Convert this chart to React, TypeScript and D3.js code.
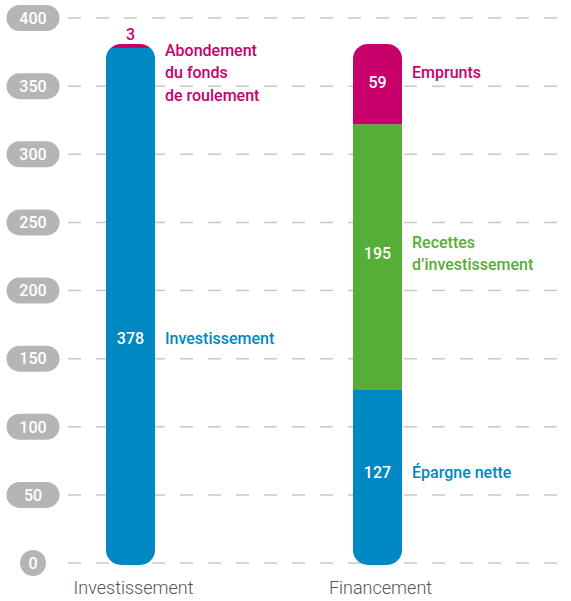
import * as d3 from "d3";

const categories = ["Investissement", "Financement"];
const ticks = [0, 50, 100, 150, 200, 250, 300, 350, 400];

// stacked segments, bottom to top
const investSeries = [
  { name: "Investissement", value: 378, color: "#0088c3" },
  { name: "Abondement du fonds de roulement", value: 3, color: "#c8006c" },
];
const financeSeries = [
  { name: "Épargne nette", value: 127, color: "#0088c3" },
  { name: "Recettes d'investissement", value: 195, color: "#55ae35" },
  { name: "Emprunts", value: 59, color: "#c8006c" },
];

const W = 571;
const H = 601;
const BAR_W = 49;
const FONT = "Roboto, 'Noto Sans', sans-serif";

function labelLines(name: string): string[] {
  if (name === "Abondement du fonds de roulement") return ["Abondement", "du fonds", "de roulement"];
  if (name === "Recettes d'investissement") return ["Recettes", "d\u2019investissement"];
  return [name];
}

export default function App() {
  const y = d3.scaleLinear().domain([0, 400]).range([563, 18]);
  const x = d3.scalePoint<string>().domain(categories).range([130.5, 377.5]);

  const stacks = [investSeries, financeSeries].map((series, i) => {
    let acc = 0;
    const segs = series.map((s) => {
      const seg = { ...s, y0: acc, y1: acc + s.value };
      acc += s.value;
      return seg;
    });
    return { cat: categories[i], segs, total: acc };
  });

  return (
    <svg width={W} height={H} style={{ position: "absolute", left: 0, top: 0 }}>
      <defs>
        {stacks.map((st, i) => (
          <clipPath id={`clip${i}`} key={i}>
            <rect
              x={x(st.cat)! - BAR_W / 2}
              y={y(st.total)}
              width={BAR_W}
              height={y(0) + 2 - y(st.total)}
              rx={15}
            />
          </clipPath>
        ))}
      </defs>

      {/* grid */}
      {ticks.map((t) => (
        <line
          key={t}
          x1={68}
          x2={W}
          y1={y(t)}
          y2={y(t)}
          stroke="#c8c8c8"
          strokeWidth={1.5}
          strokeDasharray="13 15"
        />
      ))}

      {/* y axis pills */}
      {ticks.map((t) => {
        const w = String(t).length === 1 ? 26 : 53;
        return (
          <g key={t} transform={`translate(33,${y(t)})`}>
            <rect x={-w / 2} y={-13} width={w} height={26} rx={13} fill="#b5b5b5" />
            <text
              textAnchor="middle"
              dy="0.36em"
              fill="#fff"
              fontFamily={FONT}
              fontWeight={500}
              fontSize={16}
            >
              {t}
            </text>
          </g>
        );
      })}

      {/* bars */}
      {stacks.map((st, i) => (
        <g key={st.cat} clipPath={`url(#clip${i})`}>
          {st.segs.map((s) => (
            <rect
              key={s.name}
              x={x(st.cat)! - BAR_W / 2}
              y={y(s.y1)}
              width={BAR_W}
              height={y(s.y0) - y(s.y1) + (s.y0 === 0 ? 2 : 0)}
              fill={s.color}
            />
          ))}
        </g>
      ))}

      {/* labels */}
      {stacks.map((st) =>
        st.segs.map((s) => {
          const cx = x(st.cat)!;
          const small = s.value < 10;
          const mid = (s.y0 + s.y1) / 2;
          // the Investissement label sits lower than the segment midpoint
          const labVal = s.name === "Investissement" ? 165 : s.name === "Emprunts" ? mid + 1.5 : mid + 3;
          const vy = small ? y(s.y1) - 10 : y(labVal);
          const lines = labelLines(s.name);
          const lh = 22.5;
          const nameY = small
            ? y(s.y1) + 6
            : s.name === "Emprunts"
            ? y(labVal) - 10
            : y(labVal) - ((lines.length - 1) * lh) / 2;
          return (
            <g key={s.name}>
              <text
                x={cx}
                y={vy}
                dy="0.36em"
                textAnchor="middle"
                fill={small ? s.color : "#fff"}
                fontFamily={FONT}
                fontWeight={500}
                fontSize={16}
              >
                {s.value}
              </text>
              {lines.map((l, k) => (
                <text
                  key={k}
                  x={cx + BAR_W / 2 + 10}
                  y={nameY + k * lh}
                  dy="0.36em"
                  fill={s.color}
                  fontFamily={FONT}
                  fontWeight={500}
                  fontSize={16}
                >
                  {l}
                </text>
              ))}
            </g>
          );
        })
      )}

      {/* x axis labels */}
      {categories.map((c) => (
        <text
          key={c}
          x={x(c)! + 3}
          y={588}
          dy="0.36em"
          textAnchor="middle"
          fill="#555"
          fontFamily={FONT}
          fontWeight={300}
          fontSize={18}
        >
          {c}
        </text>
      ))}
    </svg>
  );
}
